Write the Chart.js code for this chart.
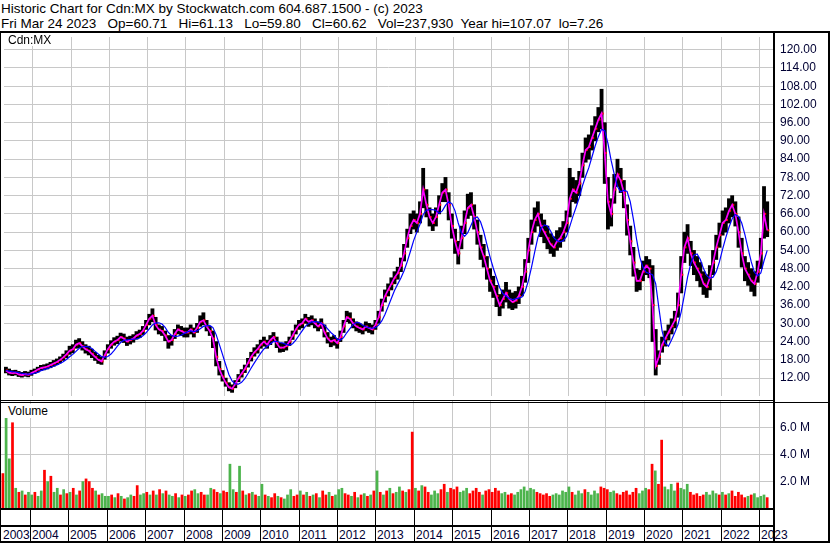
<!DOCTYPE html>
<html>
<head>
<meta charset="utf-8">
<script src="https://cdn.jsdelivr.net/npm/chart.js@4.4.1/dist/chart.umd.min.js"></script>
<style>
html,body{margin:0;padding:0;background:#fff;}
#wrap{position:relative;width:830px;height:543px;overflow:hidden;background:#fff;font-family:"Liberation Sans",Arial,sans-serif;}
.hdr{position:absolute;left:1px;font-size:13.5px;line-height:15px;white-space:pre;color:#000;}
.b{position:absolute;background:#000;z-index:5;}
canvas{position:absolute;left:0;}
.lbl{position:absolute;font-size:12px;line-height:14px;white-space:pre;color:#000;background:#fff;z-index:3;}
.yr{position:absolute;font-size:12px;line-height:14px;white-space:pre;color:#000033;z-index:2;}
</style>
</head>
<body>
<div id="wrap">
  <div class="hdr" style="top:1px">Historic Chart for Cdn:MX by Stockwatch.com 604.687.1500 - (c) 2023</div>
  <div class="hdr" style="top:16px">Fri Mar 24 2023   Op=60.71   Hi=61.13   Lo=59.80   Cl=60.62   Vol=237,930  Year hi=107.07  lo=7.26</div>
  <canvas id="pc" width="830" height="367" style="top:33px"></canvas>
  <canvas id="vc" width="830" height="107" style="top:401px"></canvas>
  <div class="lbl" style="left:3px;top:33px;height:13px;padding:0 6px 0 5px;line-height:14px;">Cdn:MX</div>
  <div class="lbl" style="left:3px;top:404px;height:14px;padding:0 6px 0 5px;">Volume</div>
  <!-- frame -->
  <div class="b" style="left:0;top:31px;width:830px;height:2px"></div>
  <div class="b" style="left:0;top:31px;width:1px;height:512px"></div>
  <div class="b" style="left:828px;top:31px;width:2px;height:512px"></div>
  <div class="b" style="left:0;top:541px;width:830px;height:2px"></div>
  <div class="b" style="left:773px;top:31px;width:2px;height:512px"></div>
  <div class="b" style="left:0;top:400px;width:773px;height:1px"></div>
  <div class="b" style="left:0;top:402px;width:830px;height:1px"></div>
  <div class="b" style="left:0;top:508px;width:773px;height:2px"></div>
  <div class="b" style="left:0;top:525px;width:773px;height:2px"></div>
  <div id="rows"></div>
</div>
<script>
// ---- data (monthly, Apr 2003 .. Mar 2023) ----
const startYear = 2003, startMonth = 4;
const yearLabels = ['2003','2004','2005','2006','2007','2008','2009','2010','2011','2012','2013','2014','2015','2016','2017','2018','2019','2020','2021','2022','2023'];
const priceTicks = [12,18,24,30,36,42,48,54,60,66,72,78,84,90,96,102,108,114,120];
const volTicks = [2,4,6];

const closeP = [
14.5,13.8,13.6,13.8,13.2,13.0,13.3,13.1,13.7,
14.2,14.8,15.3,15.5,15.8,16.3,16.8,17.3,18.0,18.8,19.8,21.0,
21.5,23.0,23.5,22.5,21.5,21.0,20.0,19.0,18.0,17.5,19.5,21.5,
23.0,24.0,24.5,25.5,25.0,24.0,24.5,25.0,26.0,26.5,27.5,29.5,
31.5,32.5,29.5,28.0,27.5,26.0,24.0,24.5,26.5,28.0,27.5,27.0,
27.0,28.0,27.0,28.5,30.5,31.0,29.0,27.5,25.0,19.0,15.0,12.5,
10.5,9.0,8.5,10.0,12.0,13.5,15.0,17.0,19.0,20.5,21.5,23.0,
24.0,23.0,24.5,25.5,23.5,22.0,22.0,22.5,24.0,26.0,28.0,29.5,
30.0,31.5,30.5,31.0,30.0,29.0,30.0,27.0,25.0,24.0,24.5,23.5,
25.5,29.0,32.0,31.5,30.0,29.0,28.5,28.0,29.0,28.5,28.0,29.5,
32.0,36.0,39.0,41.0,43.0,45.0,46.5,49.0,53.0,58.0,62.0,64.0,
63.0,66.0,74.0,69.0,65.0,63.0,65.0,69.0,73.0,74.0,69.0,62.0,
57.0,53.0,58.0,63.0,68.0,69.0,65.0,60.0,55.0,52.0,48.0,44.0,
42.0,39.0,36.0,38.0,40.0,38.0,37.0,37.5,39.0,42.0,47.0,54.0,
60.0,64.0,66.0,62.0,60.0,58.0,56.0,55.0,57.0,58.0,60.0,63.0,
71.0,74.0,73.0,76.0,82.0,87.0,88.0,91.0,94.0,97.0,99.0,86.0,
70.0,66.0,74.0,79.0,77.0,73.0,64.0,57.0,50.0,44.0,44.0,47.0,
49.0,48.0,36.0,16.0,19.0,23.0,25.0,27.0,29.0,31.0,36.0,46.0,
55.0,58.0,53.0,50.0,48.0,46.0,43.0,42.0,45.0,50.0,55.0,59.0,
63.0,64.0,67.0,69.0,66.0,60.0,53.0,48.0,46.0,44.0,43.0,47.0,
53.0,66.0,60.6];

const highP = [
15.6,15.0,14.5,14.6,14.2,13.9,14.2,14.0,14.6,
15.0,15.6,16.2,16.4,16.7,17.2,17.8,18.3,19.0,19.9,21.0,22.5,
23.0,24.5,25.0,24.0,23.0,22.5,21.5,20.5,19.5,19.0,21.0,23.0,
24.3,25.3,25.8,26.8,26.5,25.5,25.8,26.3,27.3,27.8,29.0,31.0,
33.0,34.8,32.0,29.5,29.0,27.5,26.0,26.0,28.0,29.5,29.0,28.5,
28.5,29.5,28.5,30.0,32.5,33.5,31.0,29.0,27.5,24.0,17.5,14.5,
12.0,10.5,9.8,11.2,13.2,14.8,16.3,18.5,20.5,22.0,23.0,24.5,
25.5,24.5,26.0,27.0,25.5,23.5,23.5,24.0,25.5,27.5,29.5,31.0,
31.5,33.0,32.0,32.5,31.5,30.5,31.5,29.5,27.0,25.5,26.0,25.0,
27.5,31.0,34.0,33.5,31.5,30.5,30.0,29.5,30.5,30.0,29.5,31.0,
34.0,38.0,41.0,43.0,45.0,47.0,48.5,51.5,56.0,61.0,66.0,67.0,
66.0,70.0,81.0,74.0,68.0,66.0,68.0,72.0,76.0,78.0,73.0,66.0,
61.0,57.0,62.0,67.0,72.5,73.0,69.0,64.0,59.0,56.0,52.0,48.0,
45.5,42.5,39.5,41.0,43.5,41.0,40.0,40.5,42.0,45.5,51.0,58.0,
64.0,68.0,70.0,66.0,64.0,62.0,59.5,58.5,60.5,61.5,63.5,67.0,
81.0,78.0,77.0,80.0,86.0,91.0,92.0,95.0,98.0,101.0,107.0,96.0,
78.0,71.0,79.0,84.0,81.0,77.0,69.0,62.0,55.0,48.0,47.5,50.5,
52.0,51.0,49.0,28.0,21.0,25.5,27.5,29.5,31.5,34.0,40.0,52.0,
60.0,62.5,57.0,54.0,52.0,50.0,47.0,46.0,49.0,54.0,59.0,63.0,
67.0,68.0,71.0,72.0,70.0,65.0,58.0,52.0,50.0,48.0,47.0,50.5,
58.0,75.0,70.0];

const lowP = [
13.7,13.0,12.8,13.0,12.5,12.3,12.6,12.4,12.9,
13.5,14.0,14.5,14.7,15.0,15.4,15.9,16.4,17.0,17.8,18.7,19.8,
20.3,21.8,22.0,21.2,20.2,19.6,18.7,17.8,16.8,16.5,18.2,20.2,
21.8,22.8,23.3,24.2,23.7,22.7,23.2,23.8,24.8,25.3,26.3,28.0,
29.5,30.5,27.8,26.5,26.0,24.3,21.8,22.8,25.0,26.5,26.0,25.5,
25.5,26.5,25.5,27.0,29.0,29.5,27.5,26.0,22.0,16.0,13.0,11.0,
9.3,7.8,7.3,8.8,10.8,12.3,13.8,15.6,17.6,19.2,20.2,21.8,
22.5,21.8,23.0,24.0,22.0,20.5,20.7,21.2,22.7,24.7,26.5,28.0,
28.5,30.0,29.0,29.5,28.5,27.5,28.3,25.5,23.5,22.3,22.8,21.8,
24.0,27.0,30.5,30.0,28.5,27.5,27.0,26.5,27.5,27.0,26.5,28.0,
30.0,34.0,37.0,39.0,41.0,43.0,44.5,47.0,50.5,55.0,59.5,61.0,
60.0,63.0,68.0,65.0,62.0,60.5,62.0,66.0,70.0,70.0,64.0,58.0,
53.0,49.5,54.5,59.5,64.5,65.5,61.0,56.0,51.0,48.5,44.5,40.5,
38.5,35.5,32.5,35.0,37.0,35.0,34.5,35.0,36.5,39.0,43.5,50.0,
56.0,60.0,62.0,58.5,56.5,54.5,53.0,52.0,54.0,55.0,57.0,60.0,
65.0,70.0,69.5,72.0,78.0,83.0,84.0,87.0,90.0,93.0,94.0,76.0,
61.0,62.0,69.5,75.0,73.0,68.0,59.0,52.5,45.5,40.5,41.0,44.0,
46.0,45.0,24.0,13.0,16.5,20.5,22.5,24.5,26.5,28.5,32.0,40.0,
50.0,53.0,49.0,46.0,44.0,42.0,39.5,38.5,41.0,46.0,51.0,55.0,
59.0,60.0,63.0,65.0,62.0,55.0,48.5,44.0,42.5,40.5,39.0,43.5,
48.0,58.0,58.5];

const longAvg = [
14.5,14.3,14.1,14.0,13.8,13.6,13.4,13.3,13.3,
13.6,13.9,14.4,14.8,15.1,15.5,15.9,16.3,16.8,17.4,18.1,19.0,
19.8,20.8,21.8,22.3,22.4,22.3,21.7,20.8,19.9,19.1,18.8,19.1,
19.9,21.1,22.5,23.7,24.4,24.6,24.7,24.8,24.9,25.2,25.9,26.9,
28.2,29.5,30.1,30.2,29.8,28.7,27.0,26.0,25.7,25.8,26.1,26.7,
27.2,27.5,27.3,27.5,28.2,29.0,29.2,29.3,28.6,26.3,23.1,19.8,
16.4,13.2,11.1,10.1,10.0,10.6,11.8,13.5,15.3,17.0,18.6,20.2,
21.6,22.4,23.2,24.0,24.1,23.7,23.5,23.1,22.8,23.3,24.5,26.0,
27.5,29.0,29.9,30.5,30.6,30.4,30.1,29.4,28.2,27.0,26.1,24.8,
24.5,25.3,26.9,28.3,29.6,30.3,30.2,29.4,28.9,28.6,28.4,28.6,
29.4,30.8,32.9,35.5,38.2,40.8,42.9,44.9,47.3,50.3,53.7,57.2,
60.0,62.6,65.8,67.2,67.4,67.4,67.2,66.2,67.0,68.8,70.0,69.4,
67.0,63.0,59.8,58.6,59.8,62.2,64.6,65.0,63.4,60.2,56.0,51.8,
48.2,45.0,41.8,39.8,39.0,38.2,37.8,38.1,38.3,38.7,40.5,43.9,
48.4,53.4,58.2,61.2,62.4,62.0,60.4,58.2,57.2,56.8,57.2,58.6,
61.8,65.2,68.2,71.4,75.2,78.4,81.2,84.8,88.4,91.4,93.8,93.4,
89.2,83.6,79.0,75.0,73.2,73.8,73.4,70.0,64.2,57.6,51.8,48.4,
46.8,46.4,46.0,43.0,35.0,27.5,23.5,22.5,24.6,27.0,29.6,33.8,
39.4,45.2,49.6,52.4,52.8,51.0,48.0,45.8,44.8,45.2,47.0,50.2,
54.4,58.2,61.6,64.4,65.8,65.2,63.0,59.2,54.6,50.2,46.8,45.6,
46.6,50.6,54.0];

// volume in millions
const volume = [
2.6,7.0,3.7,6.4,1.5,1.2,1.3,1.0,1.2,
1.0,1.2,0.9,1.3,2.85,2.0,2.4,1.2,1.5,1.0,1.4,1.1,
1.2,1.5,1.0,1.3,2.0,2.2,2.0,1.5,1.3,1.0,1.1,0.9,
0.9,1.0,0.8,1.1,0.9,0.7,0.8,1.0,0.9,1.7,1.0,1.1,
1.2,1.0,1.3,1.0,1.4,1.1,1.3,1.0,0.9,1.1,0.8,1.0,
0.9,1.0,1.3,1.4,1.1,1.2,1.0,1.0,1.5,1.4,1.2,1.1,
1.3,1.2,3.3,1.4,1.2,3.15,1.3,1.0,1.1,1.2,1.0,0.9,
1.8,1.0,0.9,0.8,1.1,0.9,0.8,0.7,1.0,1.4,0.9,1.0,
1.3,1.0,1.2,0.9,1.0,1.1,0.8,1.3,1.0,1.2,0.9,1.0,
1.4,1.5,1.1,1.0,0.9,1.2,0.8,1.0,1.1,0.9,1.0,1.3,
2.8,1.2,1.0,1.3,1.5,1.1,1.2,1.6,1.3,1.2,1.4,5.7,
1.5,1.3,1.7,1.6,1.2,1.0,1.3,1.1,1.4,1.8,1.2,1.5,
1.4,1.6,1.2,1.3,1.5,1.1,1.3,1.5,1.2,1.0,1.3,1.4,
1.2,1.5,1.3,1.1,1.2,1.0,1.1,1.0,1.2,1.4,1.6,1.3,
1.5,1.4,1.2,1.1,1.0,1.1,0.9,1.0,1.1,1.0,1.3,1.2,
1.6,1.2,1.0,1.3,1.1,1.4,1.2,1.0,1.3,1.1,1.6,1.5,
1.4,1.2,1.3,1.1,1.0,1.2,1.3,1.0,1.2,1.5,1.1,1.3,
1.5,1.4,3.3,2.8,1.8,5.1,1.6,1.4,1.8,1.3,1.9,1.5,
1.4,1.8,1.2,1.0,1.1,0.9,1.0,1.2,1.0,1.3,1.1,1.0,
1.2,1.0,1.1,1.3,0.9,1.2,1.0,0.8,0.9,1.0,1.1,0.8,
0.9,1.0,0.8];

// 1 = up (green) bar, 0 = down (red) bar
const volUp = [
0,1,1,0,1,0,1,0,1,
1,0,1,1,0,1,0,1,1,0,1,0,
1,0,1,0,1,0,0,0,1,0,1,1,
1,0,1,0,1,0,1,1,0,0,1,1,
0,1,0,1,0,1,0,1,1,0,1,0,
1,0,0,1,1,0,0,1,1,0,0,1,
0,0,1,1,0,1,0,1,0,1,0,1,
1,0,1,0,0,1,0,1,1,1,0,0,
1,0,1,0,1,0,1,0,0,1,0,1,
1,1,0,0,1,0,1,0,1,0,1,0,
1,0,1,0,1,0,1,1,0,1,0,0,
1,0,1,0,0,1,1,1,0,0,1,0,
0,0,1,1,1,0,0,0,0,1,0,0,
0,0,0,1,1,0,0,1,1,1,1,1,
1,1,0,0,0,0,0,1,1,1,1,1,
1,0,1,1,1,0,1,1,1,1,0,0,
0,1,1,0,0,0,0,0,0,0,1,1,
1,0,0,1,0,0,1,1,1,1,0,1,
1,1,0,0,0,0,0,1,1,1,1,0,
1,0,1,0,0,0,0,0,1,0,1,1,
1,1,0];

// ---- build ----
const months = closeP.map((_, i) => {
  const m = startMonth - 1 + i;
  return (startYear + Math.floor(m / 12)) + '-' + String(m % 12 + 1).padStart(2, '0');
});
const monthX = months.map(s => { const p = s.split('-').map(Number); return p[0] + (p[1] - 0.5) / 12; });
const gridYears = yearLabels.slice(1).map(Number);

const X_MIN = 2003.242, X_MAX = 2023.36;
const GRID = '#c8c8c8';
const FONT = {family: 'Liberation Sans, Arial, sans-serif', size: 12};

function xAxis() {
  return {
    type: 'linear', min: X_MIN, max: X_MAX, offset: false,
    grid: {color: GRID, lineWidth: 1, drawTicks: false, offset: false},
    border: {display: false},
    ticks: {display: false},
    afterBuildTicks: s => { s.ticks = gridYears.map(v => ({value: v})); },
    afterFit: s => { s.height = 0; s.paddingLeft = 0; s.paddingRight = 0; }
  };
}
function yAxis(min, max, ticks, fmt) {
  return {
    type: 'linear', position: 'right', min: min, max: max,
    grid: {color: GRID, lineWidth: 1, drawTicks: false},
    border: {display: false},
    ticks: {padding: 7, color: '#000033', font: FONT, crossAlign: 'near', autoSkip: false, callback: v => fmt(v)},
    afterBuildTicks: s => { s.ticks = ticks.map(v => ({value: v})); },
    afterFit: s => { s.width = 57; s.paddingTop = 0; s.paddingBottom = 0; }
  };
}
const common = {
  responsive: false, animation: false, devicePixelRatio: 1, events: [],
  layout: {padding: {left: 1, right: 0, top: 0, bottom: 0}},
  plugins: {legend: {display: false}, tooltip: {enabled: false}}
};

const priceChart = new Chart(document.getElementById('pc'), {
  type: 'bar',
  data: {
    datasets: [
      {type: 'bar', data: monthX.map((x, i) => ({x: x, y: [lowP[i], highP[i]]})),
       backgroundColor: '#000000', borderWidth: 0, barPercentage: 1, categoryPercentage: 1, order: 4},
      {type: 'line', data: monthX.map((x, i) => ({x: x + 0.03, y: closeP[i]})),
       showLine: false, pointStyle: 'rect', pointRadius: 1.4, pointBackgroundColor: '#ff0000', pointBorderWidth: 0, order: 3},
      {type: 'line', data: monthX.map((x, i) => ({x: x, y: closeP[i]})),
       borderColor: '#ff00ff', borderWidth: 1.7, pointRadius: 0, tension: 0, order: 2},
      {type: 'line', data: monthX.map((x, i) => ({x: x, y: longAvg[i]})),
       borderColor: '#0000ff', borderWidth: 1.2, pointRadius: 0, tension: 0, order: 1}
    ]
  },
  options: Object.assign({}, common, {
    scales: {x: xAxis(), y: yAxis(6.11, 124.18, priceTicks, v => v.toFixed(2))}
  })
});

const volChart = new Chart(document.getElementById('vc'), {
  type: 'bar',
  data: {
    datasets: [{
      data: monthX.map((x, i) => ({x: x, y: volume[i]})),
      backgroundColor: volUp.map(u => u ? '#4cb44c' : '#ff0000'),
      borderWidth: 0, barPercentage: 0.85, categoryPercentage: 1
    }]
  },
  options: Object.assign({}, common, {
    scales: {x: xAxis(), y: yAxis(0, 8, volTicks, v => v.toFixed(1) + ' M')}
  })
});

// bottom date rows, positioned from the chart's own x scale
const rows = document.getElementById('rows');
const xs = volChart.scales.x;
yearLabels.forEach((lab, i) => {
  const y = Number(lab);
  const px = i === 0 ? 1 : Math.round(xs.getPixelForValue(y));
  if (i > 0) {
    const d = document.createElement('div');
    d.className = 'b';
    d.style.cssText = 'left:' + px + 'px;top:510px;width:1px;height:31px;z-index:4';
    rows.appendChild(d);
  }
  const t = document.createElement('div');
  t.className = 'yr';
  t.textContent = lab;
  t.style.left = (px + 2) + 'px';
  t.style.top = '528px';
  rows.appendChild(t);
});
</script>
</body>
</html>
